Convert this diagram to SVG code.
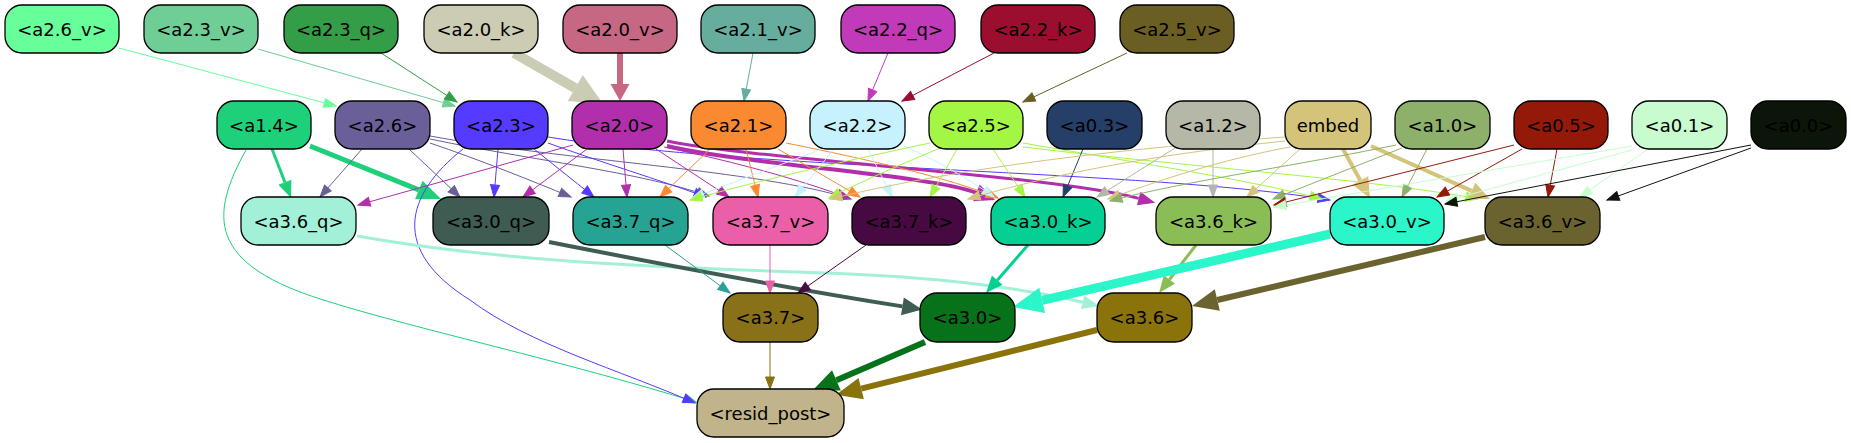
<svg xmlns="http://www.w3.org/2000/svg" width="1851" height="443" viewBox="0 0 1851 443">
<style>
.n rect{stroke:#000;stroke-width:1.3}
.n text{font-family:"DejaVu Sans","Liberation Sans",sans-serif;font-size:18px;text-anchor:middle;fill:#000}
.e path{fill:none;stroke-width:1}
</style>
<defs>
<marker id="t-a26v" markerUnits="userSpaceOnUse" markerWidth="14" markerHeight="12" refX="12" refY="4.5" orient="auto" overflow="visible"><path d="M0,0L12,4.5L0,9z" fill="#66ff99" stroke="#66ff99"/></marker>
<marker id="t-a23v" markerUnits="userSpaceOnUse" markerWidth="14" markerHeight="12" refX="12" refY="4.5" orient="auto" overflow="visible"><path d="M0,0L12,4.5L0,9z" fill="#6fce96" stroke="#6fce96"/></marker>
<marker id="t-a23q" markerUnits="userSpaceOnUse" markerWidth="14" markerHeight="12" refX="12" refY="4.5" orient="auto" overflow="visible"><path d="M0,0L12,4.5L0,9z" fill="#339e47" stroke="#339e47"/></marker>
<marker id="t-a21v" markerUnits="userSpaceOnUse" markerWidth="14" markerHeight="12" refX="12" refY="4.5" orient="auto" overflow="visible"><path d="M0,0L12,4.5L0,9z" fill="#66ad9e" stroke="#66ad9e"/></marker>
<marker id="t-a22q" markerUnits="userSpaceOnUse" markerWidth="14" markerHeight="12" refX="12" refY="4.5" orient="auto" overflow="visible"><path d="M0,0L12,4.5L0,9z" fill="#c03ab9" stroke="#c03ab9"/></marker>
<marker id="t-a22k" markerUnits="userSpaceOnUse" markerWidth="14" markerHeight="12" refX="12" refY="4.5" orient="auto" overflow="visible"><path d="M0,0L12,4.5L0,9z" fill="#9b0e30" stroke="#9b0e30"/></marker>
<marker id="t-a25v" markerUnits="userSpaceOnUse" markerWidth="14" markerHeight="12" refX="12" refY="4.5" orient="auto" overflow="visible"><path d="M0,0L12,4.5L0,9z" fill="#6b5e23" stroke="#6b5e23"/></marker>
<marker id="t-a14" markerUnits="userSpaceOnUse" markerWidth="14" markerHeight="12" refX="12" refY="4.5" orient="auto" overflow="visible"><path d="M0,0L12,4.5L0,9z" fill="#1ed07a" stroke="#1ed07a"/></marker>
<marker id="t-a26" markerUnits="userSpaceOnUse" markerWidth="14" markerHeight="12" refX="12" refY="4.5" orient="auto" overflow="visible"><path d="M0,0L12,4.5L0,9z" fill="#6a5f98" stroke="#6a5f98"/></marker>
<marker id="t-a23" markerUnits="userSpaceOnUse" markerWidth="14" markerHeight="12" refX="12" refY="4.5" orient="auto" overflow="visible"><path d="M0,0L12,4.5L0,9z" fill="#553bff" stroke="#553bff"/></marker>
<marker id="t-a20" markerUnits="userSpaceOnUse" markerWidth="14" markerHeight="12" refX="12" refY="4.5" orient="auto" overflow="visible"><path d="M0,0L12,4.5L0,9z" fill="#b12fab" stroke="#b12fab"/></marker>
<marker id="t-a21" markerUnits="userSpaceOnUse" markerWidth="14" markerHeight="12" refX="12" refY="4.5" orient="auto" overflow="visible"><path d="M0,0L12,4.5L0,9z" fill="#fa8a32" stroke="#fa8a32"/></marker>
<marker id="t-a22" markerUnits="userSpaceOnUse" markerWidth="14" markerHeight="12" refX="12" refY="4.5" orient="auto" overflow="visible"><path d="M0,0L12,4.5L0,9z" fill="#c6f2fe" stroke="#c6f2fe"/></marker>
<marker id="t-a25" markerUnits="userSpaceOnUse" markerWidth="14" markerHeight="12" refX="12" refY="4.5" orient="auto" overflow="visible"><path d="M0,0L12,4.5L0,9z" fill="#a4f645" stroke="#a4f645"/></marker>
<marker id="t-a03" markerUnits="userSpaceOnUse" markerWidth="14" markerHeight="12" refX="12" refY="4.5" orient="auto" overflow="visible"><path d="M0,0L12,4.5L0,9z" fill="#263f6a" stroke="#263f6a"/></marker>
<marker id="t-a12" markerUnits="userSpaceOnUse" markerWidth="14" markerHeight="12" refX="12" refY="4.5" orient="auto" overflow="visible"><path d="M0,0L12,4.5L0,9z" fill="#b4b6a6" stroke="#b4b6a6"/></marker>
<marker id="t-emb" markerUnits="userSpaceOnUse" markerWidth="14" markerHeight="12" refX="12" refY="4.5" orient="auto" overflow="visible"><path d="M0,0L12,4.5L0,9z" fill="#d4c47a" stroke="#d4c47a"/></marker>
<marker id="t-a10" markerUnits="userSpaceOnUse" markerWidth="14" markerHeight="12" refX="12" refY="4.5" orient="auto" overflow="visible"><path d="M0,0L12,4.5L0,9z" fill="#8db06a" stroke="#8db06a"/></marker>
<marker id="t-a05" markerUnits="userSpaceOnUse" markerWidth="14" markerHeight="12" refX="12" refY="4.5" orient="auto" overflow="visible"><path d="M0,0L12,4.5L0,9z" fill="#951908" stroke="#951908"/></marker>
<marker id="t-a01" markerUnits="userSpaceOnUse" markerWidth="14" markerHeight="12" refX="12" refY="4.5" orient="auto" overflow="visible"><path d="M0,0L12,4.5L0,9z" fill="#c7fccc" stroke="#c7fccc"/></marker>
<marker id="t-a00" markerUnits="userSpaceOnUse" markerWidth="14" markerHeight="12" refX="12" refY="4.5" orient="auto" overflow="visible"><path d="M0,0L12,4.5L0,9z" fill="#0b1608" stroke="#0b1608"/></marker>
<marker id="t-a37q" markerUnits="userSpaceOnUse" markerWidth="14" markerHeight="12" refX="12" refY="4.5" orient="auto" overflow="visible"><path d="M0,0L12,4.5L0,9z" fill="#27a293" stroke="#27a293"/></marker>
<marker id="t-a37v" markerUnits="userSpaceOnUse" markerWidth="14" markerHeight="12" refX="12" refY="4.5" orient="auto" overflow="visible"><path d="M0,0L12,4.5L0,9z" fill="#ea5fa8" stroke="#ea5fa8"/></marker>
<marker id="t-a37k" markerUnits="userSpaceOnUse" markerWidth="14" markerHeight="12" refX="12" refY="4.5" orient="auto" overflow="visible"><path d="M0,0L12,4.5L0,9z" fill="#470a42" stroke="#470a42"/></marker>
<marker id="t-a37" markerUnits="userSpaceOnUse" markerWidth="14" markerHeight="12" refX="12" refY="4.5" orient="auto" overflow="visible"><path d="M0,0L12,4.5L0,9z" fill="#8a7117" stroke="#8a7117"/></marker>
<marker id="k-a20k" markerUnits="userSpaceOnUse" markerWidth="34" markerHeight="32" refX="0" refY="15" orient="auto" overflow="visible"><path d="M0,0L32,15L0,30z" fill="#cccbb3"/></marker>
<marker id="k-a20v" markerUnits="userSpaceOnUse" markerWidth="19" markerHeight="21" refX="0" refY="9.5" orient="auto" overflow="visible"><path d="M0,0L17,9.5L0,19z" fill="#c76783"/></marker>
<marker id="k-a14s" markerUnits="userSpaceOnUse" markerWidth="19" markerHeight="16" refX="0" refY="7" orient="auto" overflow="visible"><path d="M0,0L17,7L0,14z" fill="#1ed07a"/></marker>
<marker id="k-a14l" markerUnits="userSpaceOnUse" markerWidth="26" markerHeight="22" refX="0" refY="10" orient="auto" overflow="visible"><path d="M0,0L24,10L0,20z" fill="#1ed07a"/></marker>
<marker id="k-a20m" markerUnits="userSpaceOnUse" markerWidth="22" markerHeight="20" refX="0" refY="9" orient="auto" overflow="visible"><path d="M0,0L20,9L0,18z" fill="#b12fab"/></marker>
<marker id="k-a20s" markerUnits="userSpaceOnUse" markerWidth="19" markerHeight="16" refX="0" refY="7" orient="auto" overflow="visible"><path d="M0,0L17,7L0,14z" fill="#b12fab"/></marker>
<marker id="k-emb" markerUnits="userSpaceOnUse" markerWidth="22" markerHeight="20" refX="0" refY="9" orient="auto" overflow="visible"><path d="M0,0L20,9L0,18z" fill="#d4c47a"/></marker>
<marker id="k-a36q" markerUnits="userSpaceOnUse" markerWidth="19" markerHeight="16" refX="0" refY="7" orient="auto" overflow="visible"><path d="M0,0L17,7L0,14z" fill="#a2f0d8"/></marker>
<marker id="k-a30q" markerUnits="userSpaceOnUse" markerWidth="22" markerHeight="20" refX="0" refY="9" orient="auto" overflow="visible"><path d="M0,0L20,9L0,18z" fill="#3f5d53"/></marker>
<marker id="k-a30k" markerUnits="userSpaceOnUse" markerWidth="19" markerHeight="16" refX="0" refY="7" orient="auto" overflow="visible"><path d="M0,0L17,7L0,14z" fill="#06cf94"/></marker>
<marker id="k-a36k" markerUnits="userSpaceOnUse" markerWidth="19" markerHeight="16" refX="0" refY="7" orient="auto" overflow="visible"><path d="M0,0L17,7L0,14z" fill="#8bbd57"/></marker>
<marker id="k-a30v" markerUnits="userSpaceOnUse" markerWidth="32" markerHeight="28" refX="0" refY="13" orient="auto" overflow="visible"><path d="M0,0L30,13L0,26z" fill="#2af6c9"/></marker>
<marker id="k-a36v" markerUnits="userSpaceOnUse" markerWidth="28" markerHeight="24" refX="0" refY="11" orient="auto" overflow="visible"><path d="M0,0L26,11L0,22z" fill="#6a632f"/></marker>
<marker id="k-a30" markerUnits="userSpaceOnUse" markerWidth="28" markerHeight="24" refX="0" refY="11" orient="auto" overflow="visible"><path d="M0,0L26,11L0,22z" fill="#06721a"/></marker>
<marker id="k-a36" markerUnits="userSpaceOnUse" markerWidth="28" markerHeight="24" refX="0" refY="11" orient="auto" overflow="visible"><path d="M0,0L26,11L0,22z" fill="#8a730b"/></marker>
</defs>
<rect width="1851" height="443" fill="#fff"/>
<g id="connectors" class="e">
<path d="M119,48L336,106" stroke="#66ff99" marker-end="url(#t-a26v)"/>
<path d="M258,49L455,106" stroke="#6fce96" marker-end="url(#t-a23v)"/>
<path d="M381,53L457,102" stroke="#339e47" marker-end="url(#t-a23q)"/>
<path d="M514,53L575.3,88.1" stroke="#cccbb3" style="stroke-width:10" marker-end="url(#k-a20k)"/>
<path d="M620,53L620,84" stroke="#c76783" style="stroke-width:6" marker-end="url(#k-a20v)"/>
<path d="M753,53L744,101" stroke="#66ad9e" marker-end="url(#t-a21v)"/>
<path d="M888,53L868,101" stroke="#c03ab9" marker-end="url(#t-a22q)"/>
<path d="M994,53L902,101" stroke="#9b0e30" marker-end="url(#t-a22k)"/>
<path d="M1127,53L1023,102" stroke="#6b5e23" marker-end="url(#t-a25v)"/>

<path d="M272,149L284.9,182.2" stroke="#1ed07a" style="stroke-width:3" marker-end="url(#k-a14s)"/>
<path d="M310,146L418.8,189.9" stroke="#1ed07a" style="stroke-width:5" marker-end="url(#k-a14l)"/>
<path d="M246,150C210,215 205,265 330,302C420,330 560,360 696,402" stroke="#1ed07a" marker-end="url(#t-a14)"/>

<path d="M362,149L320,197" stroke="#6a5f98" marker-end="url(#t-a26)"/>
<path d="M409,149L460,197" stroke="#6a5f98" marker-end="url(#t-a26)"/>
<path d="M430,143C480,160 530,180 571,197" stroke="#6a5f98" marker-end="url(#t-a26)"/>
<path d="M430,139C530,160 640,172 709,196" stroke="#6a5f98" marker-end="url(#t-a26)"/>
<path d="M430,136C560,160 760,170 851,199" stroke="#6a5f98" marker-end="url(#t-a26)"/>

<path d="M498,149L494,197" stroke="#553bff" marker-end="url(#t-a23)"/>
<path d="M534,149L594,197" stroke="#553bff" marker-end="url(#t-a23)"/>
<path d="M548,143C600,162 660,180 706,197" stroke="#553bff" marker-end="url(#t-a23)"/>
<path d="M548,137C750,170 1150,170 1330,200" stroke="#553bff" marker-end="url(#t-a23)"/>
<path d="M463,149C405,195 390,250 470,300C530,345 620,370 695,403" stroke="#553bff" marker-end="url(#t-a23)"/>

<path d="M573,145L358,205" stroke="#b12fab" marker-end="url(#t-a20)"/>
<path d="M587,149L523,197" stroke="#b12fab" marker-end="url(#t-a20)"/>
<path d="M623,149L627,197" stroke="#b12fab" marker-end="url(#t-a20)"/>
<path d="M656,149L729,197" stroke="#b12fab" marker-end="url(#t-a20)"/>
<path d="M664,147C740,163 800,180 849,198" stroke="#b12fab" marker-end="url(#t-a20)"/>
<path d="M667,146C750,165 930,175 976.4,192.8" stroke="#b12fab" style="stroke-width:4" marker-end="url(#k-a20m)"/>
<path d="M667,141C760,160 1050,175 1138.7,198.4" stroke="#b12fab" style="stroke-width:3" marker-end="url(#k-a20s)"/>

<path d="M710,149L660,197" stroke="#fa8a32" marker-end="url(#t-a21)"/>
<path d="M746,149L758,197" stroke="#fa8a32" marker-end="url(#t-a21)"/>
<path d="M778,149L860,197" stroke="#fa8a32" marker-end="url(#t-a21)"/>
<path d="M786,143C870,160 950,178 998,198" stroke="#fa8a32" marker-end="url(#t-a21)"/>

<path d="M822,149L692,198" stroke="#c6f2fe" marker-end="url(#t-a22)"/>
<path d="M834,149L795,197" stroke="#c6f2fe" marker-end="url(#t-a22)"/>
<path d="M868,149L892,197" stroke="#c6f2fe" marker-end="url(#t-a22)"/>
<path d="M904,146C940,162 970,180 994,197" stroke="#c6f2fe" marker-end="url(#t-a22)"/>

<path d="M930,143C850,160 760,180 690,200" stroke="#a4f645" marker-end="url(#t-a25)"/>
<path d="M940,148C900,165 860,182 829,198" stroke="#a4f645" marker-end="url(#t-a25)"/>
<path d="M957,149L930,197" stroke="#a4f645" marker-end="url(#t-a25)"/>
<path d="M993,149L1025,197" stroke="#a4f645" marker-end="url(#t-a25)"/>
<path d="M1023,143C1150,165 1250,180 1322,199" stroke="#a4f645" marker-end="url(#t-a25)"/>
<path d="M1023,147C1200,168 1380,180 1478,199" stroke="#a4f645" marker-end="url(#t-a25)"/>

<path d="M1083,149L1063,197" stroke="#263f6a" marker-end="url(#t-a03)"/>

<path d="M1175,148L1097,197" stroke="#b4b6a6" marker-end="url(#t-a12)"/>
<path d="M1213,149L1213,197" stroke="#b4b6a6" marker-end="url(#t-a12)"/>

<path d="M1285,137C1100,150 950,170 830,199" stroke="#d4c47a" marker-end="url(#t-emb)"/>
<path d="M1285,141C1150,155 1050,175 968,199" stroke="#d4c47a" marker-end="url(#t-emb)"/>
<path d="M1290,147C1220,160 1160,180 1108,199" stroke="#d4c47a" marker-end="url(#t-emb)"/>
<path d="M1300,149L1247,197" stroke="#d4c47a" marker-end="url(#t-emb)"/>
<path d="M1343,149L1360.3,180.5" stroke="#d4c47a" style="stroke-width:4" marker-end="url(#k-emb)"/>
<path d="M1371,146L1471.7,190.9" stroke="#d4c47a" style="stroke-width:4" marker-end="url(#k-emb)"/>

<path d="M1396,145C1300,165 1180,182 1110,201" stroke="#8db06a" marker-end="url(#t-a10)"/>
<path d="M1402,148L1273,199" stroke="#8db06a" marker-end="url(#t-a10)"/>
<path d="M1427,149L1402,197" stroke="#8db06a" marker-end="url(#t-a10)"/>

<path d="M1514,145L1274,205" stroke="#951908" marker-end="url(#t-a05)"/>
<path d="M1522,149L1437,197" stroke="#951908" marker-end="url(#t-a05)"/>
<path d="M1557,149L1548,197" stroke="#951908" marker-end="url(#t-a05)"/>

<path d="M1632,146L1274,207" stroke="#c7fccc" marker-end="url(#t-a01)"/>
<path d="M1632,150L1446,201" stroke="#c7fccc" marker-end="url(#t-a01)"/>
<path d="M1648,149L1580,197" stroke="#c7fccc" marker-end="url(#t-a01)"/>

<path d="M1751,145L1445,204" stroke="#0b1608" marker-end="url(#t-a00)"/>
<path d="M1751,148L1607,200" stroke="#0b1608" marker-end="url(#t-a00)"/>

<path d="M357,236C520,265 700,268 850,274C960,279 1030,290 1082.7,302.2" stroke="#a2f0d8" style="stroke-width:3" marker-end="url(#k-a36q)"/>
<path d="M549,242C650,262 800,290 902.4,306.4" stroke="#3f5d53" style="stroke-width:4" marker-end="url(#k-a30q)"/>
<path d="M665,245L730,293" stroke="#27a293" marker-end="url(#t-a37q)"/>
<path d="M770,245L770,293" stroke="#ea5fa8" marker-end="url(#t-a37v)"/>
<path d="M866,245L798,293" stroke="#470a42" marker-end="url(#t-a37k)"/>
<path d="M1028,245L997.2,280.2" stroke="#06cf94" style="stroke-width:3" marker-end="url(#k-a30k)"/>
<path d="M1196,245L1169.4,279.5" stroke="#8bbd57" style="stroke-width:3" marker-end="url(#k-a36k)"/>
<path d="M1330,234L1042.2,300.3" stroke="#2af6c9" style="stroke-width:9" marker-end="url(#k-a30v)"/>
<path d="M1485,237L1217.3,300" stroke="#6a632f" style="stroke-width:6" marker-end="url(#k-a36v)"/>

<path d="M770,342L770,389" stroke="#8a7117" marker-end="url(#t-a37)"/>
<path d="M925,342L836.4,380.3" stroke="#06721a" style="stroke-width:6" marker-end="url(#k-a30)"/>
<path d="M1097,330L861.2,388.6" stroke="#8a730b" style="stroke-width:6" marker-end="url(#k-a36)"/>
</g>

<g id="a2_6_v" class="n"><rect x="5" y="5" width="114" height="48" rx="17" fill="#66ff99"/><text x="62" y="35.5">&lt;a2.6_v&gt;</text></g>
<g id="a2_3_v" class="n"><rect x="144" y="5" width="114" height="48" rx="17" fill="#6fce96"/><text x="201" y="35.5">&lt;a2.3_v&gt;</text></g>
<g id="a2_3_q" class="n"><rect x="284" y="5" width="114" height="48" rx="17" fill="#339e47"/><text x="341" y="35.5">&lt;a2.3_q&gt;</text></g>
<g id="a2_0_k" class="n"><rect x="424" y="5" width="114" height="48" rx="17" fill="#cccbb3"/><text x="481" y="35.5">&lt;a2.0_k&gt;</text></g>
<g id="a2_0_v" class="n"><rect x="563" y="5" width="114" height="48" rx="17" fill="#c66784"/><text x="620" y="35.5">&lt;a2.0_v&gt;</text></g>
<g id="a2_1_v" class="n"><rect x="701" y="5" width="114" height="48" rx="17" fill="#66ad9e"/><text x="758" y="35.5">&lt;a2.1_v&gt;</text></g>
<g id="a2_2_q" class="n"><rect x="841" y="5" width="114" height="48" rx="17" fill="#c03ab9"/><text x="898" y="35.5">&lt;a2.2_q&gt;</text></g>
<g id="a2_2_k" class="n"><rect x="981" y="5" width="114" height="48" rx="17" fill="#9c0e30"/><text x="1038" y="35.5">&lt;a2.2_k&gt;</text></g>
<g id="a2_5_v" class="n"><rect x="1120" y="5" width="114" height="48" rx="17" fill="#6b5e23"/><text x="1177" y="35.5">&lt;a2.5_v&gt;</text></g>

<g id="a1_4" class="n"><rect x="217" y="101" width="94" height="48" rx="17" fill="#1fd07b"/><text x="264" y="131.5">&lt;a1.4&gt;</text></g>
<g id="a2_6" class="n"><rect x="335" y="101" width="95" height="48" rx="17" fill="#6a5f99"/><text x="382.5" y="131.5">&lt;a2.6&gt;</text></g>
<g id="a2_3" class="n"><rect x="454" y="101" width="94" height="48" rx="17" fill="#553bff"/><text x="501" y="131.5">&lt;a2.3&gt;</text></g>
<g id="a2_0" class="n"><rect x="572" y="101" width="95" height="48" rx="17" fill="#b12fab"/><text x="619.5" y="131.5">&lt;a2.0&gt;</text></g>
<g id="a2_1" class="n"><rect x="691" y="101" width="95" height="48" rx="17" fill="#fa8a32"/><text x="738.5" y="131.5">&lt;a2.1&gt;</text></g>
<g id="a2_2" class="n"><rect x="810" y="101" width="95" height="48" rx="17" fill="#c6f2fe"/><text x="857.5" y="131.5">&lt;a2.2&gt;</text></g>
<g id="a2_5" class="n"><rect x="929" y="101" width="94" height="48" rx="17" fill="#a4f645"/><text x="976" y="131.5">&lt;a2.5&gt;</text></g>
<g id="a0_3" class="n"><rect x="1047" y="101" width="95" height="48" rx="17" fill="#263f69"/><text x="1094.5" y="131.5">&lt;a0.3&gt;</text></g>
<g id="a1_2" class="n"><rect x="1166" y="101" width="94" height="48" rx="17" fill="#b5b7a7"/><text x="1213" y="131.5">&lt;a1.2&gt;</text></g>
<g id="embed" class="n"><rect x="1285" y="101" width="86" height="48" rx="17" fill="#d4c47a"/><text x="1328" y="131.5">embed</text></g>
<g id="a1_0" class="n"><rect x="1395" y="101" width="95" height="48" rx="17" fill="#8db06b"/><text x="1442.5" y="131.5">&lt;a1.0&gt;</text></g>
<g id="a0_5" class="n"><rect x="1514" y="101" width="94" height="48" rx="17" fill="#951908"/><text x="1561" y="131.5">&lt;a0.5&gt;</text></g>
<g id="a0_1" class="n"><rect x="1632" y="101" width="95" height="48" rx="17" fill="#c8fbcd"/><text x="1679.5" y="131.5">&lt;a0.1&gt;</text></g>
<g id="a0_0" class="n"><rect x="1751" y="101" width="95" height="48" rx="17" fill="#0b1608"/><text x="1798.5" y="131.5">&lt;a0.0&gt;</text></g>

<g id="a3_6_q" class="n"><rect x="241" y="197" width="115" height="48" rx="17" fill="#a2f0d8"/><text x="298.5" y="227.5">&lt;a3.6_q&gt;</text></g>
<g id="a3_0_q" class="n"><rect x="433" y="197" width="116" height="48" rx="17" fill="#3f5c52"/><text x="491" y="227.5">&lt;a3.0_q&gt;</text></g>
<g id="a3_7_q" class="n"><rect x="573" y="197" width="115" height="48" rx="17" fill="#27a394"/><text x="630.5" y="227.5">&lt;a3.7_q&gt;</text></g>
<g id="a3_7_v" class="n"><rect x="713" y="197" width="115" height="48" rx="17" fill="#eb5fa9"/><text x="770.5" y="227.5">&lt;a3.7_v&gt;</text></g>
<g id="a3_7_k" class="n"><rect x="852" y="197" width="114" height="48" rx="17" fill="#470942"/><text x="909" y="227.5">&lt;a3.7_k&gt;</text></g>
<g id="a3_0_k" class="n"><rect x="991" y="197" width="114" height="48" rx="17" fill="#06cf94"/><text x="1048" y="227.5">&lt;a3.0_k&gt;</text></g>
<g id="a3_6_k" class="n"><rect x="1156" y="197" width="115" height="48" rx="17" fill="#8bbd57"/><text x="1213.5" y="227.5">&lt;a3.6_k&gt;</text></g>
<g id="a3_0_v" class="n"><rect x="1330" y="197" width="114" height="48" rx="17" fill="#2af6ca"/><text x="1387" y="227.5">&lt;a3.0_v&gt;</text></g>
<g id="a3_6_v" class="n"><rect x="1485" y="197" width="115" height="48" rx="17" fill="#6a632f"/><text x="1542.5" y="227.5">&lt;a3.6_v&gt;</text></g>

<g id="a3_7" class="n"><rect x="723" y="293" width="95" height="49" rx="17" fill="#89711a"/><text x="770.5" y="324">&lt;a3.7&gt;</text></g>
<g id="a3_0" class="n"><rect x="920" y="293" width="95" height="49" rx="17" fill="#07721a"/><text x="967.5" y="324">&lt;a3.0&gt;</text></g>
<g id="a3_6" class="n"><rect x="1097" y="293" width="95" height="49" rx="17" fill="#8a730b"/><text x="1144.5" y="324">&lt;a3.6&gt;</text></g>

<g id="resid_post" class="n"><rect x="697" y="389" width="147" height="48" rx="17" fill="#c2b48a"/><text x="770.5" y="419.5">&lt;resid_post&gt;</text></g>
</svg>
